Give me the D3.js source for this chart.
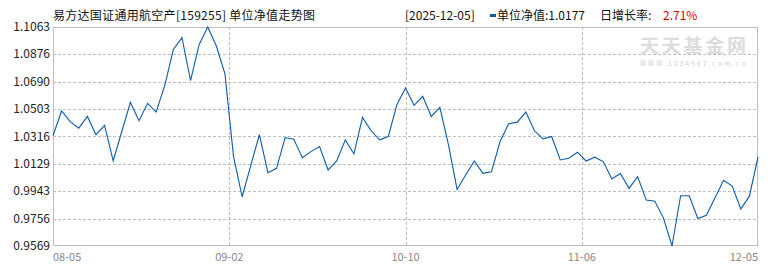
<!DOCTYPE html>
<html>
<head>
<meta charset="utf-8">
<script src="https://cdn.jsdelivr.net/npm/d3@7"></script>
<style>
  body { margin: 0; background: #fff; }
  text { font-family: "Noto Sans CJK SC", "Liberation Sans", sans-serif; }
</style>
</head>
<body>
<div id="chart"></div>
<script>
// Chart size and plot box
const width = 770;
const height = 270;
const margin = { top: 27, right: 12, bottom: 24, left: 53 };

// Header texts
const fundTitle = "易方达国证通用航空产[159255] 单位净值走势图";
const lastDate = "[2025-12-05]";
const lastNav = "1.0177";
const lastChange = "2.71%";

// X labels, evenly spaced along the bottom
const xLabels = ["08-05", "09-02", "10-10", "11-06", "12-05"];

// Y tick labels
const yTicks = [0.9569, 0.9756, 0.9943, 1.0129, 1.0316, 1.0503, 1.0690, 1.0876, 1.1063];

// Daily unit NAV, 08-05 .. 12-05
const nav = [
  1.0321, 1.0490, 1.0417, 1.0373, 1.0453, 1.0328, 1.0392, 1.0149, 1.0350, 1.0549,
  1.0423, 1.0542, 1.0483, 1.0665, 1.0910, 1.0990, 1.0698, 1.0944, 1.1063, 1.0933,
  1.0743, 1.0179, 0.9905, 1.0117, 1.0328, 1.0069, 1.0099, 1.0309, 1.0298, 1.0172,
  1.0213, 1.0248, 1.0088, 1.0149, 1.0293, 1.0197, 1.0446, 1.0355, 1.0293, 1.0316,
  1.0533, 1.0647, 1.0529, 1.0590, 1.0453, 1.0515, 1.0259, 0.9955, 1.0053, 1.0149,
  1.0065, 1.0076, 1.0282, 1.0403, 1.0414, 1.0483, 1.0355, 1.0300, 1.0316, 1.0156,
  1.0168, 1.0209, 1.0149, 1.0175, 1.0145, 1.0026, 1.0063, 0.9962, 1.0042, 0.9882,
  0.9875, 0.9761, 0.9569, 0.9912, 0.9912, 0.9757, 0.9779, 0.9898, 1.0017, 0.9978,
  0.9821, 0.9909, 1.0177
];

const svg = d3.select("#chart")
  .append("svg")
  .attr("width", width)
  .attr("height", height);

const x = d3.scaleLinear()
  .domain([0, nav.length - 1])
  .range([margin.left, width - margin.right]);

const xLab = d3.scalePoint()
  .domain(xLabels)
  .range([margin.left, width - margin.right]);

const y = d3.scaleLinear()
  .domain([d3.min(yTicks), d3.max(yTicks)])
  .range([height - margin.bottom, margin.top]);

// Horizontal dashed grid
svg.append("g")
  .selectAll("line")
  .data(yTicks.slice(1, -1))
  .join("line")
  .attr("x1", margin.left)
  .attr("x2", width - margin.right)
  .attr("y1", (d) => Math.round(y(d)) + 0.5)
  .attr("y2", (d) => Math.round(y(d)) + 0.5)
  .attr("stroke", "#bdbdbd")
  .attr("stroke-dasharray", "3,2");

// Vertical dashed grid
svg.append("g")
  .selectAll("line")
  .data(xLabels.slice(1, -1))
  .join("line")
  .attr("x1", (d) => Math.round(xLab(d)) + 0.5)
  .attr("x2", (d) => Math.round(xLab(d)) + 0.5)
  .attr("y1", margin.top)
  .attr("y2", height - margin.bottom)
  .attr("stroke", "#bdbdbd")
  .attr("stroke-dasharray", "3,2");

// Watermark
svg.append("text")
  .attr("x", 693)
  .attr("y", 53)
  .attr("text-anchor", "middle")
  .attr("font-size", 19)
  .attr("font-weight", "bold")
  .attr("fill", "#dcdcdc")
  .attr("textLength", 106)
  .text("天天基金网");

svg.append("text")
  .attr("x", 640)
  .attr("y", 66)
  .attr("font-size", 7)
  .attr("font-family", "DejaVu Sans")
  .attr("fill", "#cfcfcf")
  .attr("textLength", 106)
  .text("WWW.1234567.com.cn");

// Plot frame
svg.append("rect")
  .attr("x", margin.left + 0.5)
  .attr("y", margin.top + 0.5)
  .attr("width", width - margin.left - margin.right - 1)
  .attr("height", height - margin.top - margin.bottom - 1)
  .attr("fill", "none")
  .attr("stroke", "#bdbdbd");

// NAV line
svg.append("path")
  .datum(nav)
  .attr("fill", "none")
  .attr("stroke", "#0a5bad")
  .attr("stroke-width", 1.1)
  .attr("d", d3.line().x((d, i) => x(i)).y((d) => y(d)));

// Y labels
svg.append("g")
  .selectAll("text")
  .data(yTicks)
  .join("text")
  .attr("x", margin.left - 3)
  .attr("y", (d) => y(d) + 4)
  .attr("text-anchor", "end")
  .attr("font-size", 12)
  .attr("font-family", "Liberation Sans")
  .attr("fill", "#222")
  .text((d) => d.toFixed(4));

// X labels
svg.append("g")
  .selectAll("text")
  .data(xLabels)
  .join("text")
  .attr("x", (d) => xLab(d))
  .attr("y", height - 9)
  .attr("text-anchor", (d, i) => i === 0 ? "start" : (i === xLabels.length - 1 ? "end" : "middle"))
  .attr("font-size", 11)
  .attr("font-family", "Liberation Sans")
  .attr("fill", "#888")
  .text((d) => d);

// Header
svg.append("text")
  .attr("x", 53)
  .attr("y", 20)
  .attr("font-size", 12)
  .attr("fill", "#111")
  .attr("textLength", 262)
  .text(fundTitle);

svg.append("text")
  .attr("x", 405)
  .attr("y", 20)
  .attr("font-size", 12)
  .attr("fill", "#111")
  .text(lastDate);

svg.append("rect")
  .attr("x", 490)
  .attr("y", 14)
  .attr("width", 6)
  .attr("height", 3)
  .attr("fill", "#0a5bad");

svg.append("text")
  .attr("x", 497)
  .attr("y", 20)
  .attr("font-size", 12)
  .attr("fill", "#111")
  .text("单位净值:" + lastNav);

svg.append("text")
  .attr("x", 600)
  .attr("y", 20)
  .attr("font-size", 12)
  .attr("fill", "#111")
  .text("日增长率:");

svg.append("text")
  .attr("x", 663)
  .attr("y", 20)
  .attr("font-size", 12)
  .attr("fill", "#e00000")
  .text(lastChange);
</script>
</body>
</html>
